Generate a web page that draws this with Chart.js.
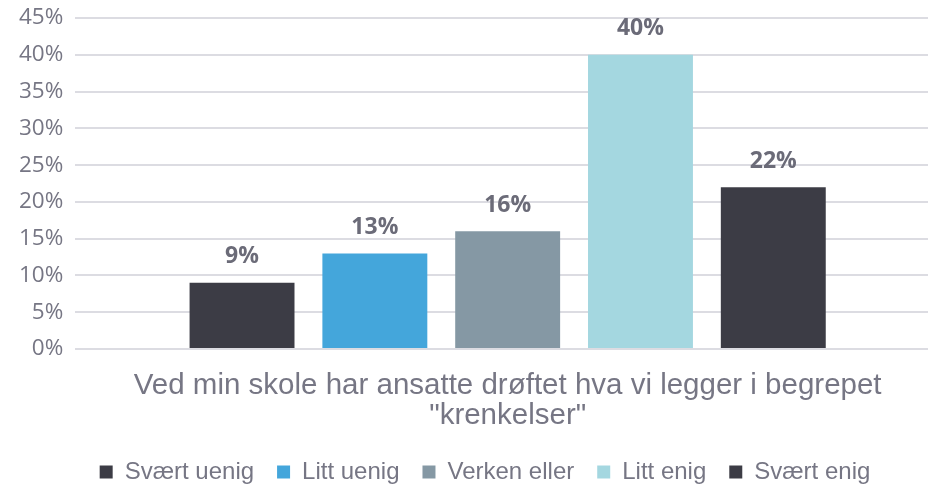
<!DOCTYPE html>
<html>
<head>
<meta charset="utf-8">
<script src="https://cdn.jsdelivr.net/npm/chart.js@4/dist/chart.umd.min.js"></script>
<style>
    html, body { margin: 0; padding: 0; background: #fff; overflow: hidden; }
    /* plot area runs a little past the right edge, as in the original */
    #wrap { width: 940px; height: 487px; }
</style>
</head>
<body>
<div id="wrap"><canvas id="chart"></canvas></div>
<script>
// Data
const categories = [['Ved min skole har ansatte drøftet hva vi legger i begrepet', '"krenkelser"']];
const seriesNames = ['Svært uenig', 'Litt uenig', 'Verken eller', 'Litt enig', 'Svært enig'];
const seriesValues = [[9], [13], [16], [40], [22]];
const seriesColors = ['#3c3c45', '#44a6db', '#8598a4', '#a4d7e0', '#3c3c45'];
const yTicks = [0, 5, 10, 15, 20, 25, 30, 35, 40, 45];

const textGray = '#767684';

// draws the value labels above each bar
const valueLabels = {
    id: 'valueLabels',
    afterDatasetsDraw(chart) {
        const ctx = chart.ctx;
        ctx.save();
        ctx.font = 'bold 23px "Open Sans"';
        ctx.fillStyle = '#6b6b78';
        ctx.textAlign = 'center';
        ctx.textBaseline = 'middle';
        chart.data.datasets.forEach((ds, i) => {
            chart.getDatasetMeta(i).data.forEach((bar, j) => {
                ctx.fillText(ds.data[j] + '%', bar.x, bar.y - 26);
            });
        });
        ctx.restore();
    }
};

// nudge the legend a bit to the right, the original is not centred on the canvas
const legendShift = {
    id: 'legendShift',
    afterLayout(chart) {
        if (chart.legend) chart.legend.left += 23;
    }
};

new Chart(document.getElementById('chart'), {
    type: 'bar',
    data: {
        labels: categories,
        datasets: seriesNames.map((name, i) => ({
            label: name,
            data: seriesValues[i],
            backgroundColor: seriesColors[i],
            borderWidth: 0,
            categoryPercentage: 0.768,
            barPercentage: 0.79
        }))
    },
    options: {
        responsive: true,
        maintainAspectRatio: false,
        animation: false,
        layout: { padding: { top: 18, right: 0, left: 7, bottom: -7 } },
        scales: {
            x: {
                grid: { display: false },
                border: { display: false },
                afterFit: axis => { axis.height = 88; },
                ticks: {
                    color: textGray,
                    font: { family: '"Liberation Sans"', size: 29.5, lineHeight: '30px' },
                    padding: 14
                }
            },
            y: {
                min: 0,
                max: 45,
                afterBuildTicks: axis => { axis.ticks = yTicks.map(v => ({ value: v })); },
                afterFit: axis => { axis.paddingTop = 0; axis.paddingBottom = 0; },
                grid: { color: '#dcdce2', lineWidth: 2, drawTicks: false },
                border: { display: false },
                ticks: {
                    color: textGray,
                    font: { family: '"Open Sans"', size: 22.5 },
                    padding: 12,
                    callback: v => v + '%'
                }
            }
        },
        plugins: {
            legend: {
                position: 'bottom',
                labels: {
                    color: textGray,
                    font: { family: '"Liberation Sans"', size: 24 },
                    boxWidth: 13,
                    boxHeight: 13,
                    padding: 23
                }
            },
            tooltip: { enabled: false }
        }
    },
    plugins: [valueLabels, legendShift]
});
</script>
</body>
</html>
